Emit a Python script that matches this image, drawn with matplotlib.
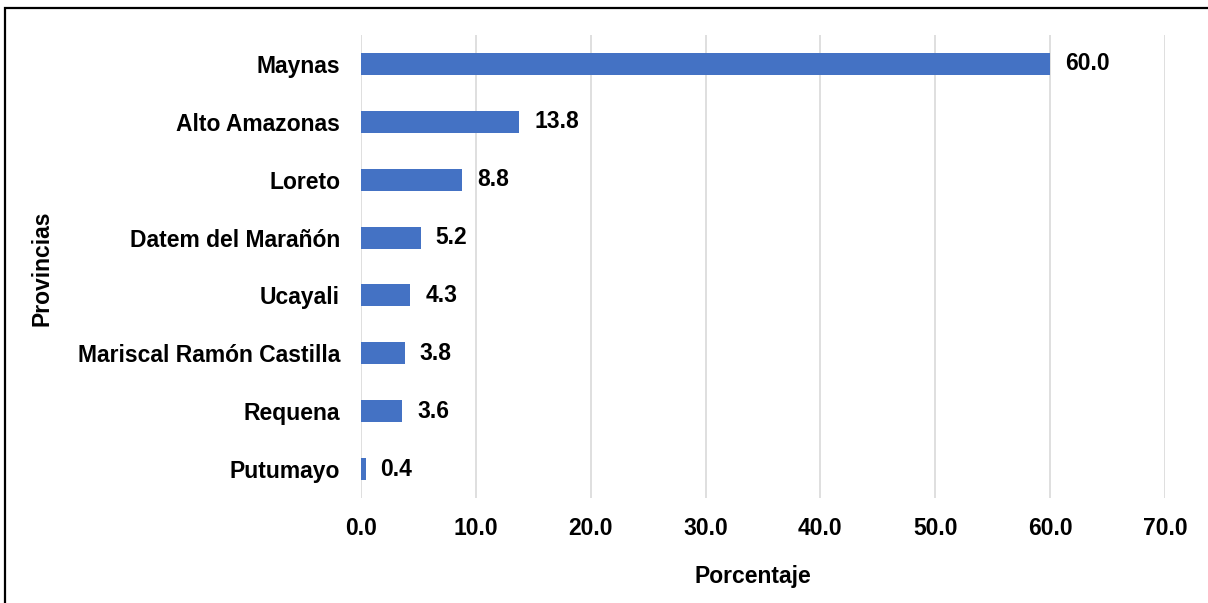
import matplotlib
matplotlib.use('Agg')
import matplotlib.pyplot as plt
from matplotlib.patches import Rectangle

provincias = ['Maynas', 'Alto Amazonas', 'Loreto', 'Datem del Marañón',
              'Ucayali', 'Mariscal Ramón Castilla', 'Requena', 'Putumayo']
porcentaje = [60.0, 13.8, 8.8, 5.2, 4.3, 3.8, 3.6, 0.4]
xticks = [0, 10, 20, 30, 40, 50, 60, 70]

plt.rcParams['font.family'] = ['Liberation Sans', 'DejaVu Sans']
plt.rcParams['font.weight'] = 'bold'
fs = 16.5

fig = plt.figure(figsize=(12.08, 6.03), dpi=100)
ax = fig.add_axes([0.2988, 0.1741, 0.9644 - 0.2988, 0.942 - 0.1741])

ypos = list(range(len(provincias)))
ax.barh(ypos, porcentaje, height=0.38, color='#4472C4', zorder=3)
for y, v in zip(ypos, porcentaje):
    ax.text(v + 1.3, y, f'{v:.1f}', va='center', ha='left',
            fontsize=fs, fontweight='bold', color='black')

ax.set_ylim(len(provincias) - 0.5, -0.5)
ax.set_yticks(ypos)
ax.set_yticklabels(provincias, fontsize=fs, fontweight='bold')
ax.set_xlim(0, 70)
ax.set_xticks(xticks)
ax.set_xticklabels([f'{t:.1f}' for t in xticks], fontsize=fs, fontweight='bold')
ax.tick_params(length=0, pad=14, axis='x')
ax.tick_params(length=0, pad=15, axis='y')
ax.grid(axis='x', color='#D9D9D9', linewidth=1.2, zorder=0)
for s in ax.spines.values():
    s.set_visible(False)

fig.text(753 / 1208, 1 - 576 / 603, 'Porcentaje', ha='center', va='center',
         fontsize=fs, fontweight='bold')
fig.text(42 / 1208, 1 - 268 / 603, 'Provincias', rotation=90, ha='center', va='center',
         fontsize=fs, fontweight='bold')

# frame around the chart
fig.patches.append(Rectangle((5 / 1208, -0.1), 1.2, 1 - 8 / 603 + 0.1,
                             transform=fig.transFigure, fill=False,
                             edgecolor='black', linewidth=1.6))

fig.savefig('out.png', dpi=100)
